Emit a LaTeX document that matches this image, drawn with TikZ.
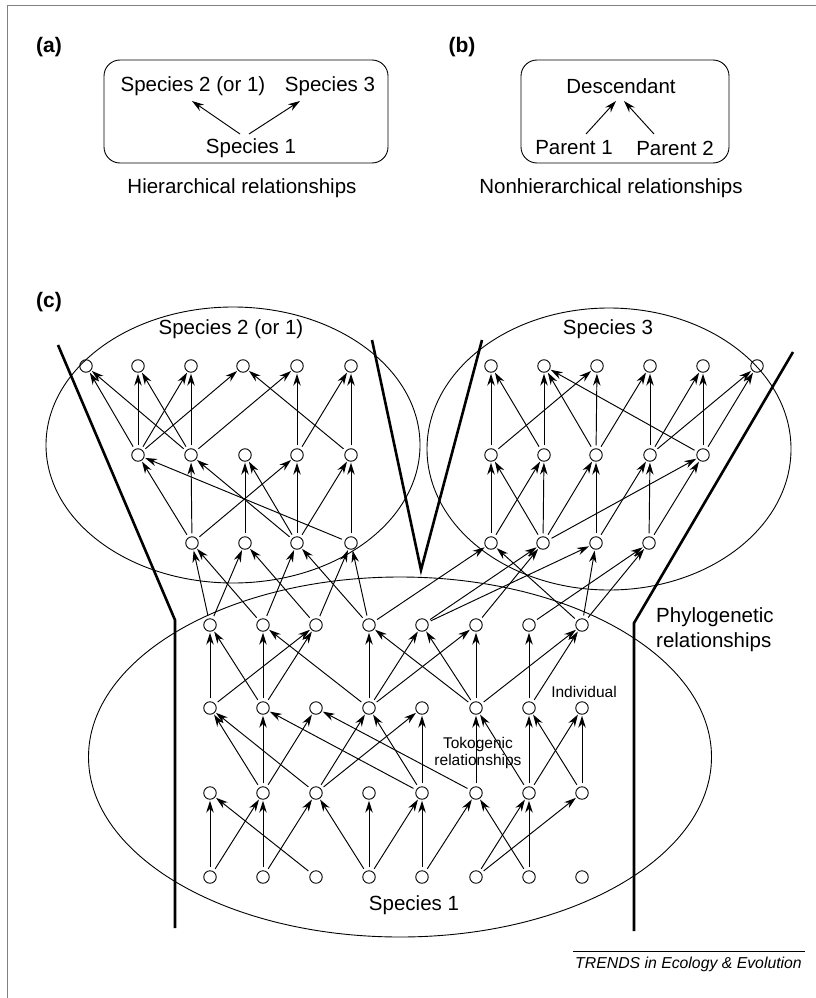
\documentclass[tikz,border=0pt]{standalone}
\usepackage{fontspec}
\setmainfont{Liberation Sans}
\usetikzlibrary{arrows.meta}
\begin{document}
\begin{tikzpicture}[x=1pt,y=-1pt,
  ind/.style={circle,draw,line width=0.9pt,minimum size=12.5pt,inner sep=0pt},
  arr/.style={-{Stealth[length=12pt,width=7.5pt]},line width=0.95pt,shorten <=3pt,shorten >=1pt},
  heavy/.style={line width=2.6pt,line join=miter},
  lab/.style={font=\fontsize{20.5}{25}\selectfont,inner sep=0pt},
  small/.style={font=\fontsize{15.5}{17.5}\selectfont,align=center,inner sep=0pt},
  panel/.style={font=\fontsize{21}{23}\selectfont\bfseries,inner sep=0pt},
  box/.style={draw,rounded corners=16pt,line width=0.9pt,inner sep=0pt},
  oval/.style={line width=0.9pt}
]
\useasboundingbox (0,0) rectangle (816,998);
\draw[gray,line width=1pt] (7,998) -- (7,6) -- (816,6);

% ---------- panel (a)
\node[panel] (la) at (49,47) {(a)};
\node[box,minimum width=284pt,minimum height=103pt] (boxa) at (246,111.5) {};
\node[lab] (s2a) at (193,86) {Species 2 (or 1)};
\node[lab] (s3a) at (330,86) {Species 3};
\node[lab] (s1a) at (251,148) {Species 1};
\node[lab] (ha) at (242,188) {Hierarchical relationships};
\coordinate (ta1) at (240,134); \coordinate (ha1) at (192,101);
\coordinate (ta2) at (249,134); \coordinate (ha2) at (300,101);
\draw[arr,shorten <=0pt,shorten >=0pt] (ta1) -- (ha1);
\draw[arr,shorten <=0pt,shorten >=0pt] (ta2) -- (ha2);

% ---------- panel (b)
\node[panel] (lb) at (462,47) {(b)};
\node[box,minimum width=208pt,minimum height=103pt] (boxb) at (625,111.5) {};
\node[lab] (desc) at (621,86) {Descendant};
\node[lab] (par1) at (574,148) {Parent 1};
\node[lab] (par2) at (675,148) {Parent 2};
\node[lab] (hb) at (611,188) {Nonhierarchical relationships};
\coordinate (tb1) at (586,134); \coordinate (hb1) at (616,101);
\coordinate (tb2) at (654,134); \coordinate (hb2) at (624,101);
\draw[arr,shorten <=0pt,shorten >=0pt] (tb1) -- (hb1);
\draw[arr,shorten <=0pt,shorten >=0pt] (tb2) -- (hb2);

% ---------- panel (c)
\node[panel] (lc) at (49,302) {(c)};
\draw[oval] (233,445) ellipse [x radius=187pt,y radius=138pt];
\draw[oval] (609,449) ellipse [x radius=182pt,y radius=141pt];
\draw[oval] (400,757) ellipse [x radius=311.5pt,y radius=180pt];
\node[lab] (n2) at (231,329) {Species 2 (or 1)};
\node[lab] (n3) at (608,329) {Species 3};
\node[lab] (n1) at (414,905) {Species 1};

\draw[heavy] (58,345) -- (175,620) -- (175,928);
\draw[heavy] (372,340) -- (421,570) -- (482,340);
\draw[heavy] (793,352) -- (634,623) -- (634,931);

% nodes
\foreach \x [count=\i] in {86,138,191,243,297,351} \node[ind] (a\i) at (\x,366) {};
\foreach \x [count=\i] in {138,191,245,297,351} \node[ind] (b\i) at (\x,455) {};
\foreach \x [count=\i] in {192,245,297,351} \node[ind] (c\i) at (\x,543) {};
\foreach \x [count=\i] in {491,544,597,650,703,757} \node[ind] (p\i) at (\x,366) {};
\foreach \x [count=\i] in {491,544,596,650,703} \node[ind] (q\i) at (\x,455) {};
\foreach \x [count=\i] in {491,543,596,649} \node[ind] (r\i) at (\x,543) {};
\foreach \x [count=\i] in {210,263,316,369,422,476,529,582} {
  \node[ind] (d\i) at (\x,625) {};
  \node[ind] (e\i) at (\x,708) {};
  \node[ind] (f\i) at (\x,793) {};
  \node[ind] (g\i) at (\x,877) {};
}

% edges
\foreach \s/\t in {b1/a1,b2/a1,b1/a2,b2/a2,b1/a3,b2/a3,b1/a4,b2/a5,b5/a4,b4/a5,b4/a6,b5/a6,
  c1/b1,c4/b1,c1/b2,c3/b2,c2/b3,c3/b3,c1/b4,c3/b4,c3/b5,c4/b5,
  q1/p1,q2/p1,q2/p2,q3/p2,q5/p2,q1/p3,q3/p3,q3/p4,q4/p4,q4/p5,q5/p5,q4/p6,q5/p6,
  r1/q1,r2/q1,r1/q2,r2/q2,r2/q3,r3/q3,r3/q4,r4/q4,r2/q5,r4/q5,
  d1/c1,d2/c1,d1/c2,d3/c2,d2/c3,d4/c3,d3/c4,d4/c4,d4/r1,d8/r1,d5/r2,d6/r2,d5/r3,d8/r3,d7/r4,d8/r4,
  e1/d1,e2/d1,e2/d2,e4/d2,e1/d3,e2/d3,e4/d4,e6/d4,e4/d5,e6/d5,e4/d6,e6/d6,e7/d7,e6/d8,e7/d8,
  f2/e1,f3/e1,f2/e2,f5/e2,f2/e3,f6/e3,f3/e4,f5/e4,f3/e5,f5/e5,f6/e6,f7/e6,f7/e7,f8/e7,f7/e8,f8/e8,
  g1/f1,g3/f1,g1/f2,g2/f2,g2/f3,g4/f3,g4/f4,g4/f5,g5/f5,g5/f6,g7/f6,g6/f7,g7/f7,g6/f8}
  \draw[arr] (\s) -- (\t);

% labels
\node[lab,align=left,anchor=west] (phy) at (656,630) {Phylogenetic\\relationships};
\node[small] (indiv) at (584,692) {Individual};
\node[small] (toko) at (478,753) {Tokogenic\\relationships};
\node[font=\fontsize{15.8}{18}\selectfont\itshape,anchor=east,inner sep=0pt] (tr) at (802,964) {TRENDS in Ecology \& Evolution};
\draw[line width=0.6pt] ([xshift=-2pt,yshift=5pt]tr.north west) -- ([xshift=3pt,yshift=5pt]tr.north east);
\end{tikzpicture}
\end{document}
